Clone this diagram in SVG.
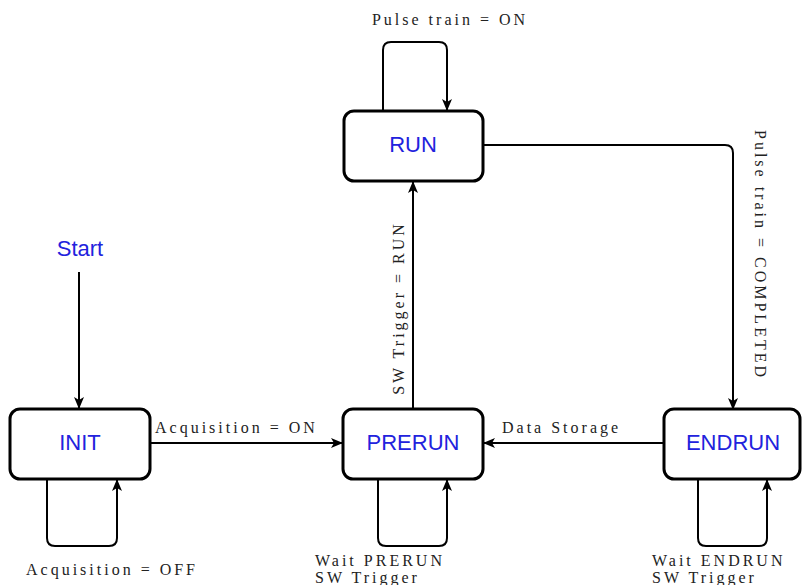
<svg xmlns="http://www.w3.org/2000/svg" width="802" height="585" viewBox="0 0 802 585">
<style>
.node rect{fill:#fff;stroke:#000;stroke-width:3}
.node text{font-family:"Liberation Sans",Arial,sans-serif;font-size:22px;fill:#2222dd;text-anchor:middle}
.edge{fill:none;stroke:#000;stroke-width:2}
.lbl{font-family:"Liberation Serif","Times New Roman",serif;font-size:16px;fill:#222;letter-spacing:3px}
</style>
<defs>
<marker id="ah" viewBox="0 0 12 10" refX="11" refY="5" markerWidth="12" markerHeight="10" markerUnits="userSpaceOnUse" orient="auto">
<path d="M0,0 L12,5 L0,10 L3,5 z" fill="#000"/>
</marker>
</defs>
<g id="connectors">
<path class="edge" d="M79,272 V408" marker-end="url(#ah)"/>
<path class="edge" d="M151,443 H342" marker-end="url(#ah)"/>
<path class="edge" d="M664,443 H484" marker-end="url(#ah)"/>
<path class="edge" d="M413,410 V182" marker-end="url(#ah)"/>
<path class="edge" d="M483,145 H725 Q733,145 733,153 V409" marker-end="url(#ah)"/>
<path class="edge" d="M383,111 V50 Q383,42 391,42 H439 Q447,42 447,50 V110" marker-end="url(#ah)"/>
<path class="edge" d="M47,479 V538 Q47,546 55,546 H109 Q117,546 117,538 V480" marker-end="url(#ah)"/>
<path class="edge" d="M378,479 V538 Q378,546 386,546 H439 Q447,546 447,538 V480" marker-end="url(#ah)"/>
<path class="edge" d="M698,479 V538 Q698,546 706,546 H759 Q767,546 767,538 V480" marker-end="url(#ah)"/>
<text class="lbl" x="450" y="25" text-anchor="middle">Pulse train = ON</text>
<text class="lbl" x="155" y="433">Acquisition = ON</text>
<text class="lbl" x="502" y="433">Data Storage</text>
<text class="lbl" x="112" y="575" text-anchor="middle">Acquisition = OFF</text>
<text class="lbl" x="315" y="566">Wait PRERUN</text>
<text class="lbl" x="315" y="583">SW Trigger</text>
<text class="lbl" x="652" y="566">Wait ENDRUN</text>
<text class="lbl" x="652" y="583">SW Trigger</text>
<text class="lbl" transform="translate(404,308) rotate(-90)" text-anchor="middle">SW Trigger = RUN</text>
<text class="lbl" transform="translate(755,255) rotate(90)" text-anchor="middle">Pulse train = COMPLETED</text>
</g>
<g id="start"><text x="80" y="256" style="font-family:'Liberation Sans',Arial,sans-serif;font-size:22px;fill:#2222dd" text-anchor="middle">Start</text></g>
<g id="run" class="node"><rect x="344" y="111" width="139" height="70" rx="10"/><text x="413" y="152">RUN</text></g>
<g id="init" class="node"><rect x="10" y="409" width="140" height="70" rx="10"/><text x="80" y="450">INIT</text></g>
<g id="prerun" class="node"><rect x="343" y="409" width="140" height="70" rx="10"/><text x="413" y="450">PRERUN</text></g>
<g id="endrun" class="node"><rect x="664" y="409" width="136" height="70" rx="10"/><text x="733" y="450">ENDRUN</text></g>
</svg>
